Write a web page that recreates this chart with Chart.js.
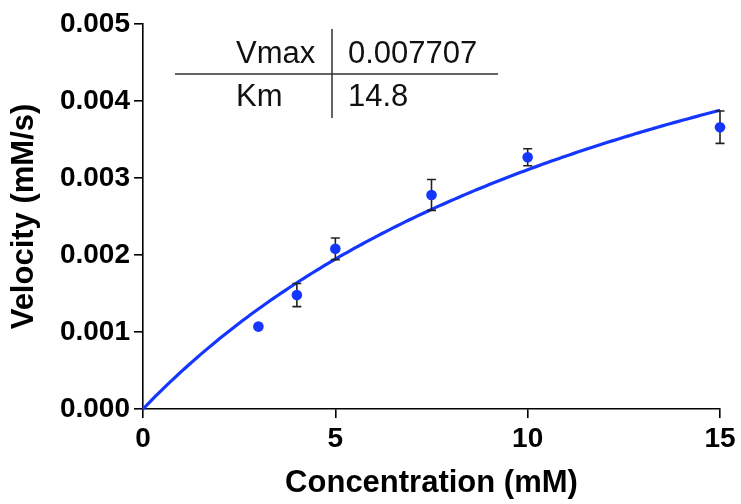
<!DOCTYPE html>
<html>
<head>
<meta charset="utf-8">
<title>Michaelis-Menten kinetics</title>
<script src="https://cdn.jsdelivr.net/npm/chart.js@4/dist/chart.umd.min.js"></script>
<style>
  html, body { margin: 0; padding: 0; background: #fff; }
  #wrap { width: 741px; height: 504px; }
</style>
</head>
<body>
<div id="wrap"><canvas id="c" width="741" height="504"></canvas></div>
<script>
// Substrate concentrations (mM) and measured initial velocities (mM/s)
const concentrations = [3, 4, 5, 7.5, 10, 15];
const velocities = [0.00107, 0.00148, 0.00208, 0.00278, 0.00327, 0.00366];
const velocitySD = [0, 0.00015, 0.00014, 0.0002, 0.00011, 0.00021];

// Fitted Michaelis-Menten parameters
const Vmax = 0.007707;
const Km = 14.8;

// Axis ticks
const xTicks = [0, 5, 10, 15];
const yTicks = [0, 0.001, 0.002, 0.003, 0.004, 0.005];

// Fitted curve V = Vmax*S/(Km+S), sampled over the x range
const curveX = [];
for (let i = 0; i <= 150; i++) curveX.push(i / 10);
const curve = curveX.map(s => ({ x: s, y: Vmax * s / (Km + s) }));

const points = concentrations.map((c, i) => ({ x: c, y: velocities[i] }));

const BLUE = '#1436ff';
const FONT = '"Liberation Sans", Arial, Helvetica, sans-serif';

// Error bars drawn right after the fit line, so the points sit on top
const errorBars = {
  id: 'errorBars',
  afterDatasetDraw(chart, args) {
    if (args.index !== 0) return;
    const { ctx, scales: { x, y } } = chart;
    ctx.save();
    ctx.strokeStyle = '#222';
    ctx.lineWidth = 1.6;
    concentrations.forEach((c, i) => {
      const sd = velocitySD[i];
      if (!sd) return;
      const px = x.getPixelForValue(c);
      const top = y.getPixelForValue(velocities[i] + sd);
      const bot = y.getPixelForValue(velocities[i] - sd);
      const cap = 4.5;
      ctx.beginPath();
      ctx.moveTo(px, top); ctx.lineTo(px, bot);
      ctx.moveTo(px - cap, top); ctx.lineTo(px + cap, top);
      ctx.moveTo(px - cap, bot); ctx.lineTo(px + cap, bot);
      ctx.stroke();
    });
    ctx.restore();
  }
};

// Parameter table in the upper left of the plot
const paramTable = {
  id: 'paramTable',
  afterDraw(chart) {
    const { ctx, chartArea: a } = chart;
    const x0 = a.left, y0 = a.top;
    ctx.save();
    ctx.strokeStyle = '#333';
    ctx.lineWidth = 1.5;
    ctx.beginPath();
    ctx.moveTo(x0 + 32, y0 + 50); ctx.lineTo(x0 + 355, y0 + 50);
    ctx.moveTo(x0 + 189, y0 + 5); ctx.lineTo(x0 + 189, y0 + 94);
    ctx.stroke();
    ctx.fillStyle = '#111';
    ctx.font = '31px ' + FONT;
    ctx.textAlign = 'left';
    ctx.textBaseline = 'alphabetic';
    ctx.fillText('Vmax', x0 + 93, y0 + 39);
    ctx.fillText(String(Vmax), x0 + 205, y0 + 39);
    ctx.fillText('Km', x0 + 93, y0 + 82);
    ctx.fillText(String(Km), x0 + 205, y0 + 82);
    ctx.restore();
  }
};

new Chart(document.getElementById('c'), {
  type: 'scatter',
  data: {
    datasets: [
      {
        label: 'Fit',
        data: curve,
        showLine: true,
        borderColor: BLUE,
        borderWidth: 3.2,
        pointRadius: 0,
        fill: false,
        tension: 0,
        clip: false,
        order: 2
      },
      {
        label: 'Velocity',
        data: points,
        backgroundColor: BLUE,
        borderColor: BLUE,
        borderWidth: 0,
        pointRadius: 5.3,
        clip: false,
        order: 1
      }
    ]
  },
  options: {
    responsive: false,
    devicePixelRatio: 1,
    animation: false,
    layout: { padding: { top: 24, right: 21, left: 0, bottom: 0 } },
    plugins: {
      legend: { display: false },
      tooltip: { enabled: false }
    },
    scales: {
      x: {
        type: 'linear',
        min: 0,
        max: 15,
        afterFit(s) { s.height = 95; },
        afterBuildTicks(s) { s.ticks = xTicks.map(v => ({ value: v })); },
        border: { color: '#000', width: 1.6 },
        grid: { drawOnChartArea: false, drawTicks: true, tickLength: 9, color: '#000', lineWidth: 1.6 },
        ticks: {
          color: '#000',
          padding: 4,
          maxRotation: 0,
          font: { family: FONT, size: 28, weight: 'bold' },
          callback: v => String(v)
        },
        title: {
          display: true,
          text: 'Concentration (mM)',
          color: '#000',
          padding: { top: 0, bottom: 2 },
          font: { family: FONT, size: 31, weight: 'bold' }
        }
      },
      y: {
        type: 'linear',
        min: 0,
        max: 0.005,
        afterFit(s) { s.width = 143; },
        afterBuildTicks(s) { s.ticks = yTicks.map(v => ({ value: v })); },
        border: { color: '#000', width: 1.6 },
        grid: { drawOnChartArea: false, drawTicks: true, tickLength: 9, color: '#000', lineWidth: 1.6 },
        ticks: {
          color: '#000',
          padding: 4,
          font: { family: FONT, size: 28, weight: 'bold' },
          callback: v => Number(v).toFixed(3)
        },
        title: {
          display: true,
          text: 'Velocity (mM/s)',
          color: '#000',
          padding: { top: 6, bottom: 0 },
          font: { family: FONT, size: 31, weight: 'bold' }
        }
      }
    }
  },
  plugins: [errorBars, paramTable]
});
</script>
</body>
</html>
